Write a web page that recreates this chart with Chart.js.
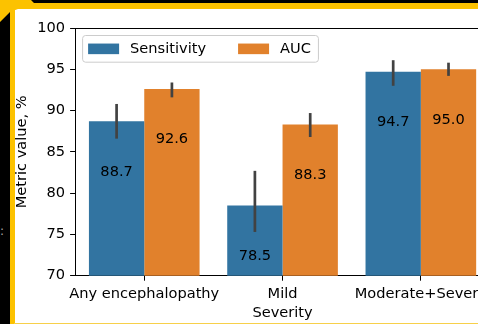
<!DOCTYPE html>
<html>
<head>
<meta charset="utf-8">
<script src="https://cdn.jsdelivr.net/npm/chart.js@4.4.1/dist/chart.umd.min.js"></script>
<style>
  html, body { margin: 0; padding: 0; background: #000; overflow: hidden; width: 478px; height: 324px; }
  .deco { position: absolute; }
  #panel { left: 15px; top: 9px; width: 480px; height: 314px; background: #fff; }
  #topStripe { left: 10px; top: 3px; width: 480px; height: 6px; background: #fcc200; }
  #leftStripe { left: 9.5px; top: 0; width: 5px; height: 324px; background: #fcc200; }
  #bottomStripe { left: 14px; top: 323px; width: 480px; height: 1px; background: #f7d04a; }
  #corner { left: 0; top: 0; width: 40px; height: 30px; background: #fcc200;
            clip-path: polygon(0 0, 31px 0, 34px 3px, 10px 12px, 0 22px); }
  #sideNote { left: 0; top: 224px; color: #aaa; font: 12px "DejaVu Sans"; }
  #wrap { position: absolute; left: 0; top: 0; width: 520px; height: 324px; }
</style>
</head>
<body>
<div class="deco" id="panel"></div>
<div class="deco" id="topStripe"></div>
<div class="deco" id="leftStripe"></div>
<div class="deco" id="bottomStripe"></div>
<div class="deco" id="corner"></div>
<div class="deco" id="sideNote">:</div>
<div id="wrap"><canvas id="metricChart"></canvas></div>
<script>
const categories = ["Any encephalopathy", "Mild", "Moderate+Severe"];
const sensitivity = [88.7, 78.5, 94.7];
const auc = [92.6, 88.3, 95.0];
// error bar ends
const sensLow = [86.6, 75.3, 93.0];
const sensHigh = [90.8, 82.7, 96.1];
const aucLow = [91.6, 86.8, 94.2];
const aucHigh = [93.4, 89.7, 95.8];
const yTicks = [70, 75, 80, 85, 90, 95, 100];

const blue = "#3274a1";
const orange = "#e1812c";
const fontPx = 14.6;

Chart.defaults.font.family = "'DejaVu Sans', sans-serif";
Chart.defaults.font.size = fontPx;
Chart.defaults.color = "#000";

const errorBars = {
  id: "errorBars",
  afterDatasetsDraw(chart) {
    const ctx = chart.ctx;
    const y = chart.scales.y;
    ctx.save();
    ctx.strokeStyle = "#424242";
    ctx.lineWidth = 2.7;
    ctx.lineCap = "butt";
    chart.data.datasets.forEach((ds, i) => {
      chart.getDatasetMeta(i).data.forEach((bar, j) => {
        ctx.beginPath();
        ctx.moveTo(bar.x, y.getPixelForValue(ds.errLow[j]));
        ctx.lineTo(bar.x, y.getPixelForValue(ds.errHigh[j]));
        ctx.stroke();
      });
    });
    // value labels sit a little under the bar top
    ctx.fillStyle = "#000";
    ctx.font = fontPx + "px 'DejaVu Sans'";
    ctx.textAlign = "center";
    ctx.textBaseline = "middle";
    chart.data.datasets.forEach((ds, i) => {
      chart.getDatasetMeta(i).data.forEach((bar, j) => {
        ctx.fillText(ds.data[j].toFixed(1), bar.x, y.getPixelForValue(ds.data[j] - 6) + 1);
      });
    });
    ctx.restore();
  }
};

const frameAndLegend = {
  id: "frameAndLegend",
  afterDraw(chart) {
    const ctx = chart.ctx;
    const ca = chart.chartArea;
    ctx.save();
    ctx.strokeStyle = "#000";
    ctx.lineWidth = 1;
    ctx.beginPath();
    ctx.moveTo(ca.left, ca.top + 0.5);
    ctx.lineTo(ca.right, ca.top + 0.5);
    ctx.lineTo(ca.right, ca.bottom);
    ctx.stroke();

    ctx.font = fontPx + "px 'DejaVu Sans'";
    const x0 = ca.left + 7, y0 = ca.top + 7;
    const pad = 6, sw = 31, sh = 10.6, gap = 11, colGap = 32;
    const items = chart.data.datasets.map(ds => ({ label: ds.label, color: ds.backgroundColor, w: ctx.measureText(ds.label).width }));
    let width = pad;
    items.forEach((it, k) => { width += sw + gap + it.w + (k < items.length - 1 ? colGap : pad + 1); });
    const height = 26.7;
    ctx.fillStyle = "rgba(255,255,255,0.8)";
    ctx.strokeStyle = "#cccccc";
    ctx.beginPath();
    ctx.roundRect(x0 + 0.5, y0 + 0.5, width, height, 3);
    ctx.fill();
    ctx.stroke();
    let x = x0 + pad;
    const cy = y0 + height / 2 + 0.5;
    ctx.textBaseline = "middle";
    ctx.textAlign = "left";
    items.forEach(it => {
      ctx.fillStyle = it.color;
      ctx.fillRect(x, cy - sh / 2, sw, sh);
      x += sw + gap;
      ctx.fillStyle = "#000";
      ctx.fillText(it.label, x, cy);
      x += it.w + colGap;
    });
    ctx.restore();
  }
};

new Chart(document.getElementById("metricChart"), {
  type: "bar",
  data: {
    labels: categories,
    datasets: [
      { label: "Sensitivity", data: sensitivity, backgroundColor: blue, errLow: sensLow, errHigh: sensHigh },
      { label: "AUC", data: auc, backgroundColor: orange, errLow: aucLow, errHigh: aucHigh }
    ]
  },
  options: {
    responsive: true,
    maintainAspectRatio: false,
    animation: false,
    categoryPercentage: 0.8,
    barPercentage: 1.0,
    layout: { padding: { top: 28, left: 0, right: 30, bottom: 0 } },
    plugins: { legend: { display: false }, tooltip: { enabled: false } },
    scales: {
      x: {
        grid: { display: true, drawOnChartArea: false, offset: false, tickLength: 5, color: "#000" },
        border: { display: true, color: "#000", width: 1 },
        ticks: { padding: 5, maxRotation: 0, autoSkip: false },
        title: { display: true, text: "Severity", padding: { top: 0, bottom: 1.8 } },
        afterFit(s) { s.height = 48.3; }
      },
      y: {
        min: 70,
        max: 100,
        afterBuildTicks(s) { s.ticks = yTicks.map(v => ({ value: v })); },
        grid: { display: true, drawOnChartArea: false, tickLength: 5, color: "#000" },
        border: { display: true, color: "#000", width: 1 },
        ticks: { padding: 5 },
        title: { display: true, text: "Metric value, %", padding: { top: 13.2, bottom: 0 } },
        afterFit(s) { s.width = 75.1; }
      }
    }
  },
  plugins: [errorBars, frameAndLegend]
});
</script>
</body>
</html>
